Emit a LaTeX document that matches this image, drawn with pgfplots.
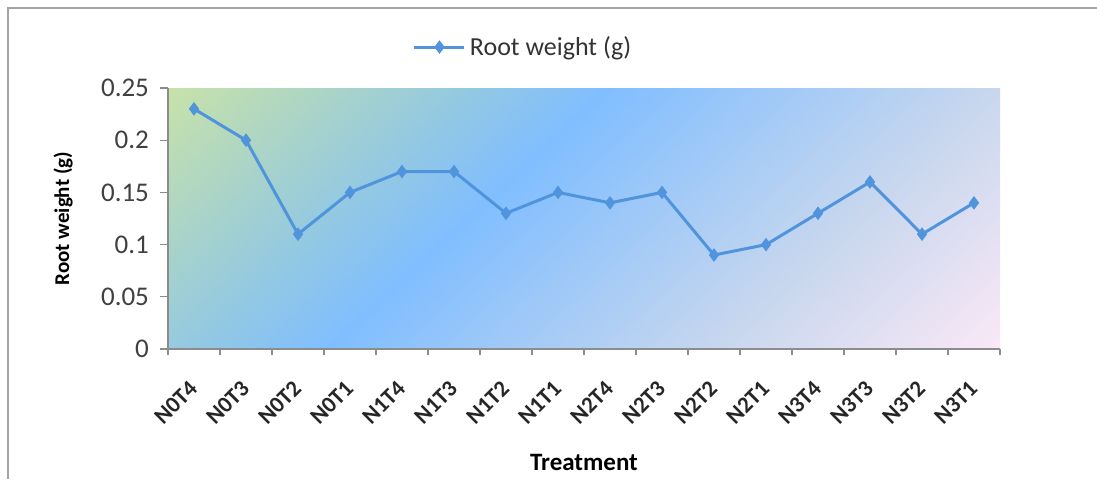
\documentclass[border=0pt]{standalone}
\usepackage{fontspec}
\setmainfont{Carlito}
\usepackage{pgfplots}
\pgfplotsset{compat=1.18}
\definecolor{gl}{RGB}{200,226,168}
\definecolor{tl}{RGB}{150,202,222}
\definecolor{bl}{RGB}{128,190,255}
\definecolor{gb}{RGB}{200,215,238}
\definecolor{pk}{RGB}{250,232,246}
\definecolor{ln}{RGB}{79,148,220}
\definecolor{ax}{RGB}{140,140,140}
\pgfdeclarehorizontalshading{bgshade}{100bp}{color(0bp)=(gl); color(27bp)=(gl); color(38.7bp)=(tl); color(45.2bp)=(bl); color(61.3bp)=(gb); color(72.8bp)=(pk); color(100bp)=(pk)}
\begin{document}
\begin{tikzpicture}
\path[use as bounding box] (0,0) rectangle (548.5pt,-239.5pt);
\draw[color=ax!80, line width=0.8pt] (4pt,-239.5pt) -- (4pt,-4pt) -- (548.5pt,-4pt);
\begin{scope}
\clip (84pt,-174.5pt) rectangle (500pt,-44pt);
\shade[shading=bgshade, shading angle=-47] (84pt,-317.25pt) rectangle (500pt,98.75pt);
\end{scope}
\begin{axis}[
  at={(84pt,-174.5pt)}, anchor=south west,
  scale only axis, width=416pt, height=130.5pt,
  xmin=-0.5, xmax=15.5, ymin=0, ymax=0.25,
  axis x line*=bottom, axis y line*=left,
  axis line style={color=ax, line width=0.6pt},
  tick style={color=ax, line width=0.6pt},
  tick align=outside,
  xtick={0,...,15},
  xticklabels={N0T4,N0T3,N0T2,N0T1,N1T4,N1T3,N1T2,N1T1,N2T4,N2T3,N2T2,N2T1,N3T4,N3T3,N3T2,N3T1},
  major x tick style={draw=none},
  minor xtick={-0.5,0.5,...,15.5},
  minor tick length=3pt,
  x tick label style={xshift=-3pt, yshift=-11pt, rotate=45, anchor=north east, font=\bfseries\fontsize{11.5}{12}\selectfont, text=black!85, inner sep=0pt},
  ytick={0,0.05,0.1,0.15,0.2,0.25},
  yticklabels={0,0.05,0.1,0.15,0.2,0.25},
  major tick length=4pt,
  y tick label style={font=\fontsize{13.5}{14}\selectfont, text=black!75, xshift=-2pt},
  ylabel={\textbf{Root weight (g)}},
  ylabel style={at={(axis description cs:-0.126,0.5)}, anchor=center, font=\fontsize{10.5}{11}\selectfont},
  xlabel={\textbf{Treatment}},
  xlabel style={at={(axis description cs:0.5,-0.433)}, anchor=center, font=\fontsize{12.5}{13}\selectfont},
  legend style={at={(axis description cs:0.428,1.157)}, anchor=center, draw=none, fill=none, font=\fontsize{13}{14}\selectfont, text=black!80},
  legend image code/.code={\draw[#1, mark repeat=2, mark phase=2] plot coordinates {(0pt,0pt) (12.5pt,0pt) (25pt,0pt)};},
  clip=false,
]
\addplot[color=ln, line width=1.5pt, mark=diamond*, mark size=3pt, mark options={fill=ln, draw=ln, line width=0.5pt}]
  coordinates {(0,0.23) (1,0.2) (2,0.11) (3,0.15) (4,0.17) (5,0.17) (6,0.13) (7,0.15) (8,0.14) (9,0.15) (10,0.09) (11,0.1) (12,0.13) (13,0.16) (14,0.11) (15,0.14)};
\addlegendentry{Root weight (g)}
\end{axis}
\end{tikzpicture}
\end{document}
